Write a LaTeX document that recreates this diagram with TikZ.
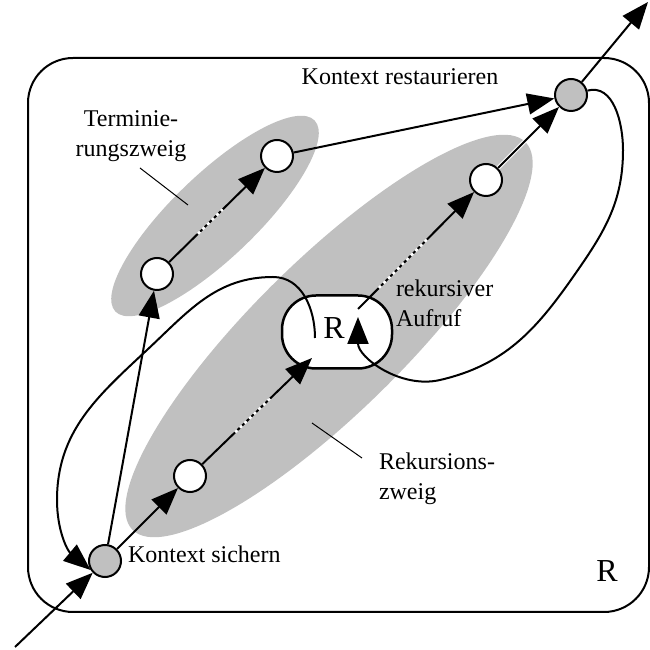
\documentclass[tikz,border=0pt]{standalone}
\usepackage{fontspec}
\setmainfont{Liberation Serif}
\usetikzlibrary{arrows.meta}
\definecolor{lgray}{RGB}{192,192,192}
\begin{document}
\begin{tikzpicture}[x=1pt,y=1pt,line width=2pt,
  every node/.style={font=\fontsize{24}{30}\selectfont},
  st/.style={circle,draw,line width=2pt,minimum size=32pt,inner sep=0pt,fill=white},
  gst/.style={st,fill=lgray},
  arr/.style={-{Triangle[length=27pt,width=21pt]}},
  gap/.style={draw=white,line width=2.6pt,dash pattern=on 3pt off 3.5pt},
  lead/.style={line width=1pt},
  txt/.style={inner sep=0pt},
  big/.style={inner sep=0pt,font=\fontsize{32}{36}\selectfont}]
\useasboundingbox (0,0) rectangle (650,650);
% outer frame
\draw[rounded corners=45pt,line width=2pt] (28,38) rectangle (649,592);
% gray regions
\fill[lgray,rotate around={43.8:(215,434)}] (215,434) ellipse [x radius=138pt,y radius=42pt];
\fill[lgray,rotate around={44.6:(329,314)}] (329,314) ellipse [x radius=276pt,y radius=76pt];
% nodes
\node[gst] (KS) at (105,89) {};
\node[gst] (KR) at (571,555) {};
\node[st] (T1) at (157,376) {};
\node[st] (T2) at (277,494) {};
\node[st] (E1) at (190,174) {};
\node[st] (E2) at (486,470) {};
\node[draw,line width=2.5pt,rounded corners=34pt,minimum width=110pt,minimum height=73pt,fill=white,inner sep=0pt] (RB) at (337,318) {};
\node[big] (RL) at (334,322) {R};
% coordinates
\coordinate (IN) at (15,3);
\coordinate (OUT) at (648,648);
\coordinate (RI) at (312,292);
\coordinate (RO) at (358,341);
\coordinate (RA) at (315,312);
\coordinate (RT) at (358,333);
\coordinate (LT1) at (140,482);
\coordinate (LT2) at (188,445);
\coordinate (LR1) at (312,227);
\coordinate (LR2) at (362,192);
% straight connectors
\draw[arr] (IN) -- (KS);
\draw[arr] (KR) -- (OUT);
\draw[arr] (KS) -- (E1);
\draw[arr] (KS) -- (T1);
\draw[arr] (E1) -- (RI);
\draw[arr] (RO) -- (E2);
\draw[arr] (T1) -- (T2);
\draw[arr] (T2) -- (KR);
\draw[arr,preaction={draw=white,line width=4pt,-}] (E2) -- (KR);
% dashed middles
\path (E1) -- (RI) coordinate[pos=0.3] (g1a) coordinate[pos=0.64] (g1b);
\draw[gap] (g1a) -- (g1b);
\path (RO) -- (E2) coordinate[pos=0.18] (g2a) coordinate[pos=0.6] (g2b);
\draw[gap] (g2a) -- (g2b);
\path (T1) -- (T2) coordinate[pos=0.3] (g3a) coordinate[pos=0.56] (g3b);
\draw[gap] (g3a) -- (g3b);
% loops
\draw[arr] (RA) to[out=90,in=0] (273,373) to[out=180,in=43] (147,300)
  to[out=223,in=90] (57,150) to[out=270,in=140] (KS.212);
\draw[arr] (KR) to[out=15,in=90] (623,500) to[out=270,in=55] (573,373)
  to[out=235,in=13] (440,270) to[out=193,in=270] (RT);
% leaders
\draw[lead] (LT1) -- (LT2);
\draw[lead] (LR1) -- (LR2);
% texts
\node[txt,anchor=base] (KRt) at (400,565) {Kontext restaurieren};
\node[txt,anchor=base west] (KSt) at (127,87) {Kontext sichern};
\node[txt,align=center] (TZ) at (131,514) {Terminie-\\rungszweig};
\node[txt,align=left,anchor=west] (RA2) at (395,347) {rekursiver\\Aufruf};
\node[txt,align=left,anchor=west] (RZ) at (378,171) {Rekursions-\\zweig};
\node[big,anchor=base] (R2) at (607,68) {R};
\end{tikzpicture}
\end{document}
